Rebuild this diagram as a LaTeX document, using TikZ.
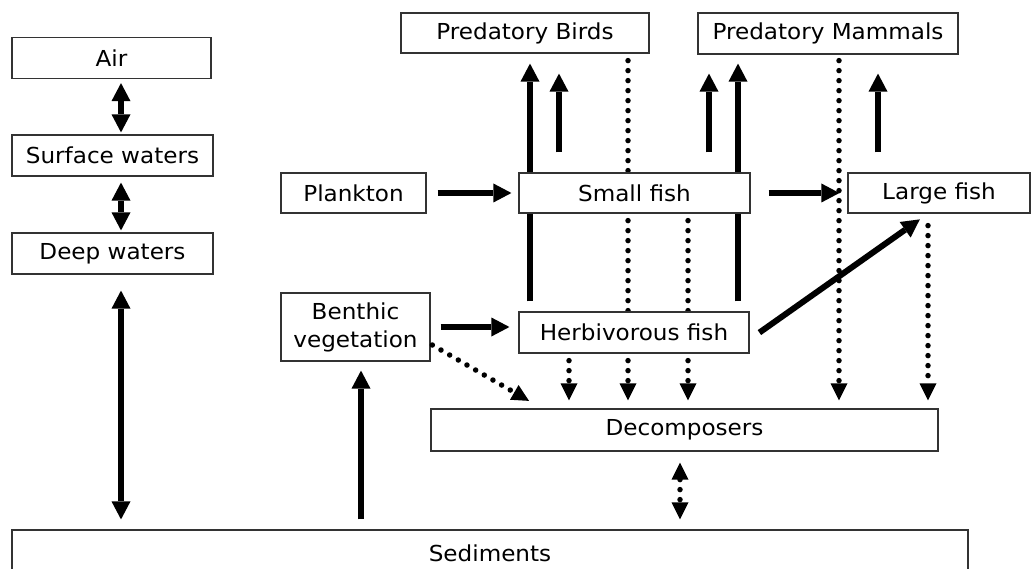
\documentclass[tikz,border=0pt]{standalone}
\usepackage{fontspec}
\setmainfont[FakeStretch=1.05]{DejaVu Sans}
\usetikzlibrary{arrows.meta,backgrounds}
\begin{document}
\begin{tikzpicture}[x=1pt,y=-1pt,
  box/.style={draw=black!80,line width=1.2pt,fill=white,inner sep=0pt,
    font=\fontsize{22}{28}\selectfont,align=center},
  flow/.style={line width=6pt,-{Triangle[length=18pt,width=19pt,line width=0pt]}},
  flowboth/.style={line width=5.5pt,{Triangle[length=18pt,width=19pt,line width=0pt]}-{Triangle[length=18pt,width=19pt,line width=0pt]}},
  waste/.style={line width=5.5pt,line cap=round,dash pattern=on 0pt off 10pt,
    -{Triangle[length=17pt,width=17pt,line width=0pt]}},
  wasteboth/.style={line width=5.5pt,line cap=round,dash pattern=on 0pt off 10pt,
    {Triangle[length=17pt,width=17pt,line width=0pt]}-{Triangle[length=17pt,width=17pt,line width=0pt]}}]
\useasboundingbox (0,0) rectangle (1032,569);
\clip (0,0) rectangle (1032,569);

% compartments
\node[box,minimum width=199pt,minimum height=41pt] (air) at (111.5,58) {Air};
\node[box,minimum width=201pt,minimum height=41pt] (sw) at (112.5,155.5) {Surface waters};
\node[box,minimum width=201pt,minimum height=41pt] (dw) at (112.5,253.5) {Deep waters};
\node[box,minimum width=248pt,minimum height=40pt] (pb) at (525,33) {Predatory Birds};
\node[box,minimum width=260pt,minimum height=41pt] (pm) at (828,33.5) {Predatory Mammals};
\node[box,minimum width=145pt,minimum height=40pt] (pl) at (353.5,193) {Plankton};
\node[box,minimum width=231pt,minimum height=40pt] (sf) at (634.5,193) {Small fish};
\node[box,minimum width=182pt,minimum height=40pt] (lf) at (939,193) {Large fish};
\node[box,minimum width=149pt,minimum height=68pt] (bv) at (355.5,327) {Benthic\\vegetation};
\node[box,minimum width=230pt,minimum height=41pt] (hf) at (634,332.5) {Herbivorous fish};
\node[box,minimum width=507pt,minimum height=42pt] (dec) at (684.5,430) {Decomposers};
\node[box,minimum width=956pt,minimum height=46pt] (sed) at (490,553) {Sediments};

% columns of the vertical links
\coordinate (cA) at (121,0);
\coordinate (cB) at (361,0);
\coordinate (c1) at (530,0);
\coordinate (c2) at (559,0);
\coordinate (c3) at (628,0);
\coordinate (c4) at (688,0);
\coordinate (c5) at (709,0);
\coordinate (c6) at (738,0);
\coordinate (c7) at (839,0);
\coordinate (c8) at (878,0);
\coordinate (c9) at (928,0);
\coordinate (c10) at (569,0);
\coordinate (c11) at (680,0);
\coordinate (c12) at (542,0);

% links that pass behind the fish boxes
\begin{scope}[on background layer]
  \draw[flow,shorten <=10pt,shorten >=10pt] (hf.north -| c1) -- (pb.south -| c1);
  \draw[flow,shorten <=10pt,shorten >=9pt] (hf.north -| c6) -- (pm.south -| c6);
  \draw[waste,shorten <=7pt,shorten >=8pt] (pb.south -| c3) -- (dec.north -| c3);
  \draw[waste,shorten <=7pt,shorten >=8pt] (sf.south -| c4) -- (dec.north -| c4);
  \draw[waste,shorten <=6pt,shorten >=8pt] (pm.south -| c7) -- (dec.north -| c7);
\end{scope}

% physical exchanges
\draw[flowboth,shorten <=4pt,shorten >=2pt] (air.south -| cA) -- (sw.north -| cA);
\draw[flowboth,shorten <=6pt,shorten >=2pt] (sw.south -| cA) -- (dw.north -| cA);
\draw[flowboth,shorten <=16pt,shorten >=10pt] (dw.south -| cA) -- (sed.north -| cA);
\draw[flow,shorten <=10pt,shorten >=9pt] (sed.north -| cB) -- (bv.south -| cB);
\draw[wasteboth,shorten <=11pt,shorten >=10pt] (dec.south -| c11) -- (sed.north -| c11);

% feeding links
\draw[flow,shorten <=11pt,shorten >=7pt] (pl.east) -- (sf.west);
\draw[flow,shorten <=18pt,shorten >=8pt] (sf.east) -- (lf.west);
\draw[flow,shorten <=10pt,shorten >=9pt] (bv.east) -- (bv.east -| hf.west);
\draw[flow,shorten <=12pt,shorten >=10pt] ([yshift=-7pt]hf.east) -- (lf.south -| c9);
\draw[flow,shorten <=20pt,shorten >=20pt] (sf.north -| c2) -- (pb.south -| c2);
\draw[flow,shorten <=20pt,shorten >=19pt] (sf.north -| c5) -- (pm.south -| c5);
\draw[flow,shorten <=20pt,shorten >=19pt] (lf.north -| c8) -- (pm.south -| c8);

% detritus to decomposers
\draw[waste,shorten <=2pt,shorten >=15pt] ([yshift=-17pt]bv.east) -- (dec.north -| c12);
\draw[waste,shorten <=7pt,shorten >=8pt] (hf.south -| c10) -- (dec.north -| c10);
\draw[waste,shorten <=12pt,shorten >=8pt] (lf.south -| c9) -- (dec.north -| c9);
\end{tikzpicture}
\end{document}
